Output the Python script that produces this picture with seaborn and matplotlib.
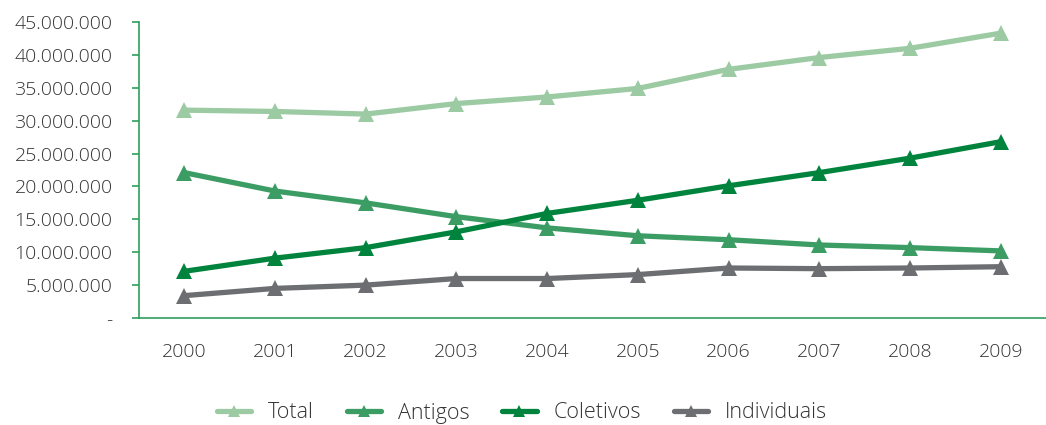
import matplotlib
matplotlib.use("Agg")
import matplotlib.pyplot as plt
from matplotlib.ticker import FixedLocator, FuncFormatter, NullFormatter
import seaborn as sns
import pandas as pd

years = ["2000", "2001", "2002", "2003", "2004", "2005", "2006", "2007", "2008", "2009"]
total = [31.6, 31.4, 31.0, 32.6, 33.6, 34.9, 37.8, 39.6, 41.0, 43.3]
antigos = [22.1, 19.3, 17.5, 15.4, 13.7, 12.5, 11.9, 11.1, 10.7, 10.2]
coletivos = [7.1, 9.1, 10.7, 13.1, 15.9, 17.9, 20.1, 22.1, 24.3, 26.8]
individuais = [3.4, 4.5, 5.0, 6.0, 6.0, 6.6, 7.6, 7.5, 7.6, 7.8]
series_names = ["Total", "Antigos", "Coletivos", "Individuais"]
colors = ["#9CCAA3", "#3C9D64", "#00843D", "#6D6E71"]
yticks = [0, 5, 10, 15, 20, 25, 30, 35, 40, 45]

rows = []
for name, vals in zip(series_names, [total, antigos, coletivos, individuais]):
    for i, (yr, v) in enumerate(zip(years, vals)):
        rows.append({"idx": i, "ano": yr, "serie": name, "valor": v * 1e6})
df = pd.DataFrame(rows)

sns.set_theme(style="white")
plt.rcParams["font.family"] = ["Open Sans", "DejaVu Sans"]
plt.rcParams["font.weight"] = "light"
text_color = "#333333"
axis_color = "#2E9E5B"

fig = plt.figure(figsize=(10.46, 4.25), dpi=100)
ax = fig.add_axes([139 / 1046, 1 - 318 / 425, 1 - 139 / 1046, (318 - 22) / 425])

sns.lineplot(data=df, x="idx", y="valor", hue="serie", hue_order=series_names,
             palette=colors, marker="^", markersize=11, markeredgewidth=0,
             linewidth=3.8, ax=ax, legend=False)

ax.set_xlim(-0.5, 9.5)
ax.set_ylim(0, 45e6)
ax.set_xlabel("")
ax.set_ylabel("")

for s in ["top", "right"]:
    ax.spines[s].set_visible(False)
for s in ["left", "bottom"]:
    ax.spines[s].set_color(axis_color)
    ax.spines[s].set_linewidth(1.2)

ax.xaxis.set_major_locator(FixedLocator(range(len(years))))
ax.set_xticklabels(years)
ax.xaxis.set_minor_locator(FixedLocator([i + 0.5 for i in range(len(years))]))
ax.xaxis.set_minor_formatter(NullFormatter())
ax.tick_params(axis="x", which="major", length=0, pad=18, labelsize=14, labelcolor=text_color)
ax.tick_params(axis="x", which="minor", length=7.5, width=1.2, color=axis_color, direction="out")

ax.yaxis.set_major_locator(FixedLocator([v * 1e6 for v in yticks]))
def fmt(v, pos):
    if v == 0:
        return "-"
    return f"{int(round(v)):,}".replace(",", ".")
ax.yaxis.set_major_formatter(FuncFormatter(fmt))
ax.tick_params(axis="y", which="major", length=5, width=1.2, color=axis_color,
               direction="out", pad=14, labelsize=14, labelcolor=text_color, left=True)

handles = [plt.Line2D([], [], color=c, linewidth=3.8, marker="^", markersize=9, markeredgewidth=0)
           for c in colors]
fig.legend(handles, series_names, loc="center", bbox_to_anchor=(522 / 1046, 1 - 413 / 425), ncol=4,
           frameon=False, fontsize=15.5, handlelength=1.6, handletextpad=0.8, columnspacing=1.5,
           labelcolor=text_color)

fig.savefig("out.png", dpi=100)
